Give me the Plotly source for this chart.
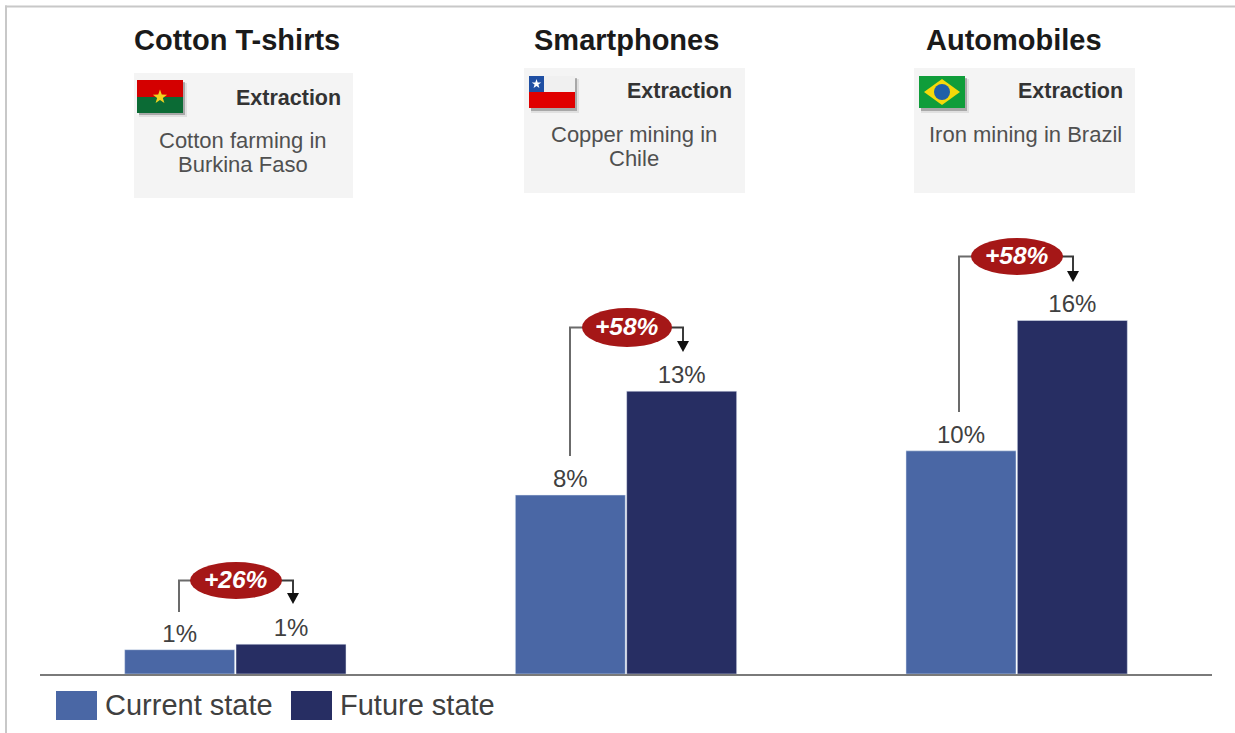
import math
import plotly.graph_objects as go

WIDTH, HEIGHT = 1235, 733

# data
products = ["Cotton T-shirts", "Smartphones", "Automobiles"]
current_state = [1.1, 8.1, 10.1]
future_state = [1.35, 12.8, 16.0]
current_labels = ["1%", "8%", "10%"]
future_labels = ["1%", "13%", "16%"]
uplift_labels = ["+26%", "+58%", "+58%"]
stage_label = "Extraction"
stage_notes = [["Cotton farming in", "Burkina Faso"], ["Copper mining in", "Chile"], ["Iron mining in Brazil"]]
series_names = ["Current state", "Future state"]

FONT = "Liberation Sans"
CURRENT_COLOR = "#4a67a5"
FUTURE_COLOR = "#272e63"


def px(x):
    return x / WIDTH


def py(y):
    return 1 - y / HEIGHT


shapes = []
annotations = []


def rect(x0, y0, x1, y1, color, opacity=1):
    shapes.append(dict(type="rect", xref="paper", yref="paper", x0=px(x0), x1=px(x1), y0=py(y0), y1=py(y1),
                       fillcolor=color, opacity=opacity, line=dict(width=0)))


def line(points, color="#6b6b6b", width=2):
    path = "M " + " L ".join(f"{px(x):.5f},{py(y):.5f}" for x, y in points)
    shapes.append(dict(type="path", xref="paper", yref="paper", path=path, line=dict(color=color, width=width)))


def polygon(points, color):
    path = "M " + " L ".join(f"{px(x):.5f},{py(y):.5f}" for x, y in points) + " Z"
    shapes.append(dict(type="path", xref="paper", yref="paper", path=path, fillcolor=color, line=dict(width=0)))


def ellipse(x0, y0, x1, y1, color):
    shapes.append(dict(type="circle", xref="paper", yref="paper", x0=px(x0), x1=px(x1), y0=py(y0), y1=py(y1),
                       fillcolor=color, line=dict(width=0)))


def label(x, y, text, size, color="#404040", anchor="center", bold=False, italic=False):
    if bold:
        text = f"<b>{text}</b>"
    if italic:
        text = f"<i>{text}</i>"
    annotations.append(dict(xref="paper", yref="paper", x=px(x), y=py(y), text=text, showarrow=False,
                            xanchor=anchor, yanchor="middle", font=dict(family=FONT, size=size, color=color)))


def star(cx, cy, r, color):
    pts = []
    for i in range(10):
        rad = r if i % 2 == 0 else r * 0.4
        a = -math.pi / 2 + i * math.pi / 5
        pts.append((cx + rad * math.cos(a), cy + rad * math.sin(a)))
    polygon(pts, color)


def flag_shadow(x, y):
    rect(x + 2, y + 3, x + 50, y + 37, "#000000", 0.08)
    rect(x + 2, y + 2, x + 48, y + 35, "#000000", 0.25)


# outer frame of the picture
rect(5, 5.5, WIDTH, 7.5, "#c8c8c8")
rect(5, 5.5, 7, HEIGHT, "#c8c8c8")

# header panels
panels = [(134, 73, 353, 198), (524, 68, 745, 193), (914, 68, 1135, 193)]
title_pos = [(237, 40), (626, 40), (1014, 40)]
stage_pos = [(343, 98), (734, 91), (1125, 91)]
note_pos = [(243, 140), (634, 134), (1025, 134)]
for i, panel in enumerate(panels):
    rect(*panel, "#f4f4f4")
    label(*title_pos[i], products[i], 29, "#1a1a1a", bold=True)
    label(*stage_pos[i], stage_label, 21.5, "#333333", "right", bold=True)
    for k, note in enumerate(stage_notes[i]):
        label(note_pos[i][0], note_pos[i][1] + k * 24.5, note, 22, "#505050")

# Burkina Faso flag
flag_shadow(137, 80)
rect(137, 80, 183, 97, "#d40000")
rect(137, 97, 183, 113, "#0b6b35")
star(160, 97, 7.5, "#f2d21f")

# Chile flag
flag_shadow(529, 76)
rect(529, 76, 575, 92, "#f0f0f0")
rect(529, 92, 575, 108, "#e00000")
rect(529, 76, 544, 92, "#1f4fa3")
star(536.5, 84, 5, "#ffffff")

# Brazil flag
flag_shadow(919, 76)
rect(919, 76, 965, 108, "#0f9d3a")
polygon([(924, 92), (942, 79), (960, 92), (942, 105)], "#f5d90a")
ellipse(934, 84, 950, 100, "#1f5fa8")

# uplift callouts: left drop x, left drop end y, ellipse box, arrow x, arrow tip y
callouts = [
    (179, 612, (190, 562, 282, 599), 293, 604),
    (570, 456, (582, 308, 672, 347), 683, 352),
    (959, 412, (971, 238, 1063, 275), 1073, 282),
]
for i, (left_x, left_y, box, arrow_x, tip_y) in enumerate(callouts):
    x0, y0, x1, y1 = box
    cy = (y0 + y1) / 2
    line([(left_x, left_y), (left_x, cy), (x0 + 2, cy)])
    line([(x1 - 2, cy), (arrow_x, cy), (arrow_x, tip_y - 10)], "#3a3a3a")
    polygon([(arrow_x - 6, tip_y - 11), (arrow_x + 6, tip_y - 11), (arrow_x, tip_y)], "#111111")
    ellipse(x0, y0, x1, y1, "#a51717")
    label((x0 + x1) / 2, cy - 1, uplift_labels[i], 24.5, "#ffffff", bold=True, italic=True)

# legend
rect(56, 691, 97, 720, CURRENT_COLOR)
rect(291, 691, 332, 720, FUTURE_COLOR)
label(103, 705, series_names[0], 29, "#404040", "left")
label(338, 705, series_names[1], 29, "#404040", "left")

fig = go.Figure()
fig.add_trace(go.Bar(x=products, y=current_state, name=series_names[0], marker_color=CURRENT_COLOR,
                     text=current_labels, textposition="outside", cliponaxis=False))
fig.add_trace(go.Bar(x=products, y=future_state, name=series_names[1], marker_color=FUTURE_COLOR,
                     text=future_labels, textposition="outside", cliponaxis=False))
fig.update_traces(textfont=dict(family=FONT, size=24, color="#404040"), textangle=0, constraintext="none")

fig.update_layout(
    width=WIDTH,
    height=HEIGHT,
    margin=dict(l=0, r=0, t=0, b=0),
    paper_bgcolor="white",
    plot_bgcolor="white",
    barmode="group",
    bargap=0.43,
    bargroupgap=0.012,
    showlegend=False,
    shapes=shapes,
    annotations=annotations,
    xaxis=dict(domain=[px(40), px(1212)], showline=True, linecolor="#7a7a7a", linewidth=2,
               showticklabels=False, ticks="", showgrid=False, zeroline=False),
    yaxis=dict(domain=[py(674), py(210)], range=[0, 21], visible=False, showgrid=False, zeroline=False),
)

fig.write_html("out.html", post_script="document.body.style.margin='0';", config=dict(displayModeBar=False))
